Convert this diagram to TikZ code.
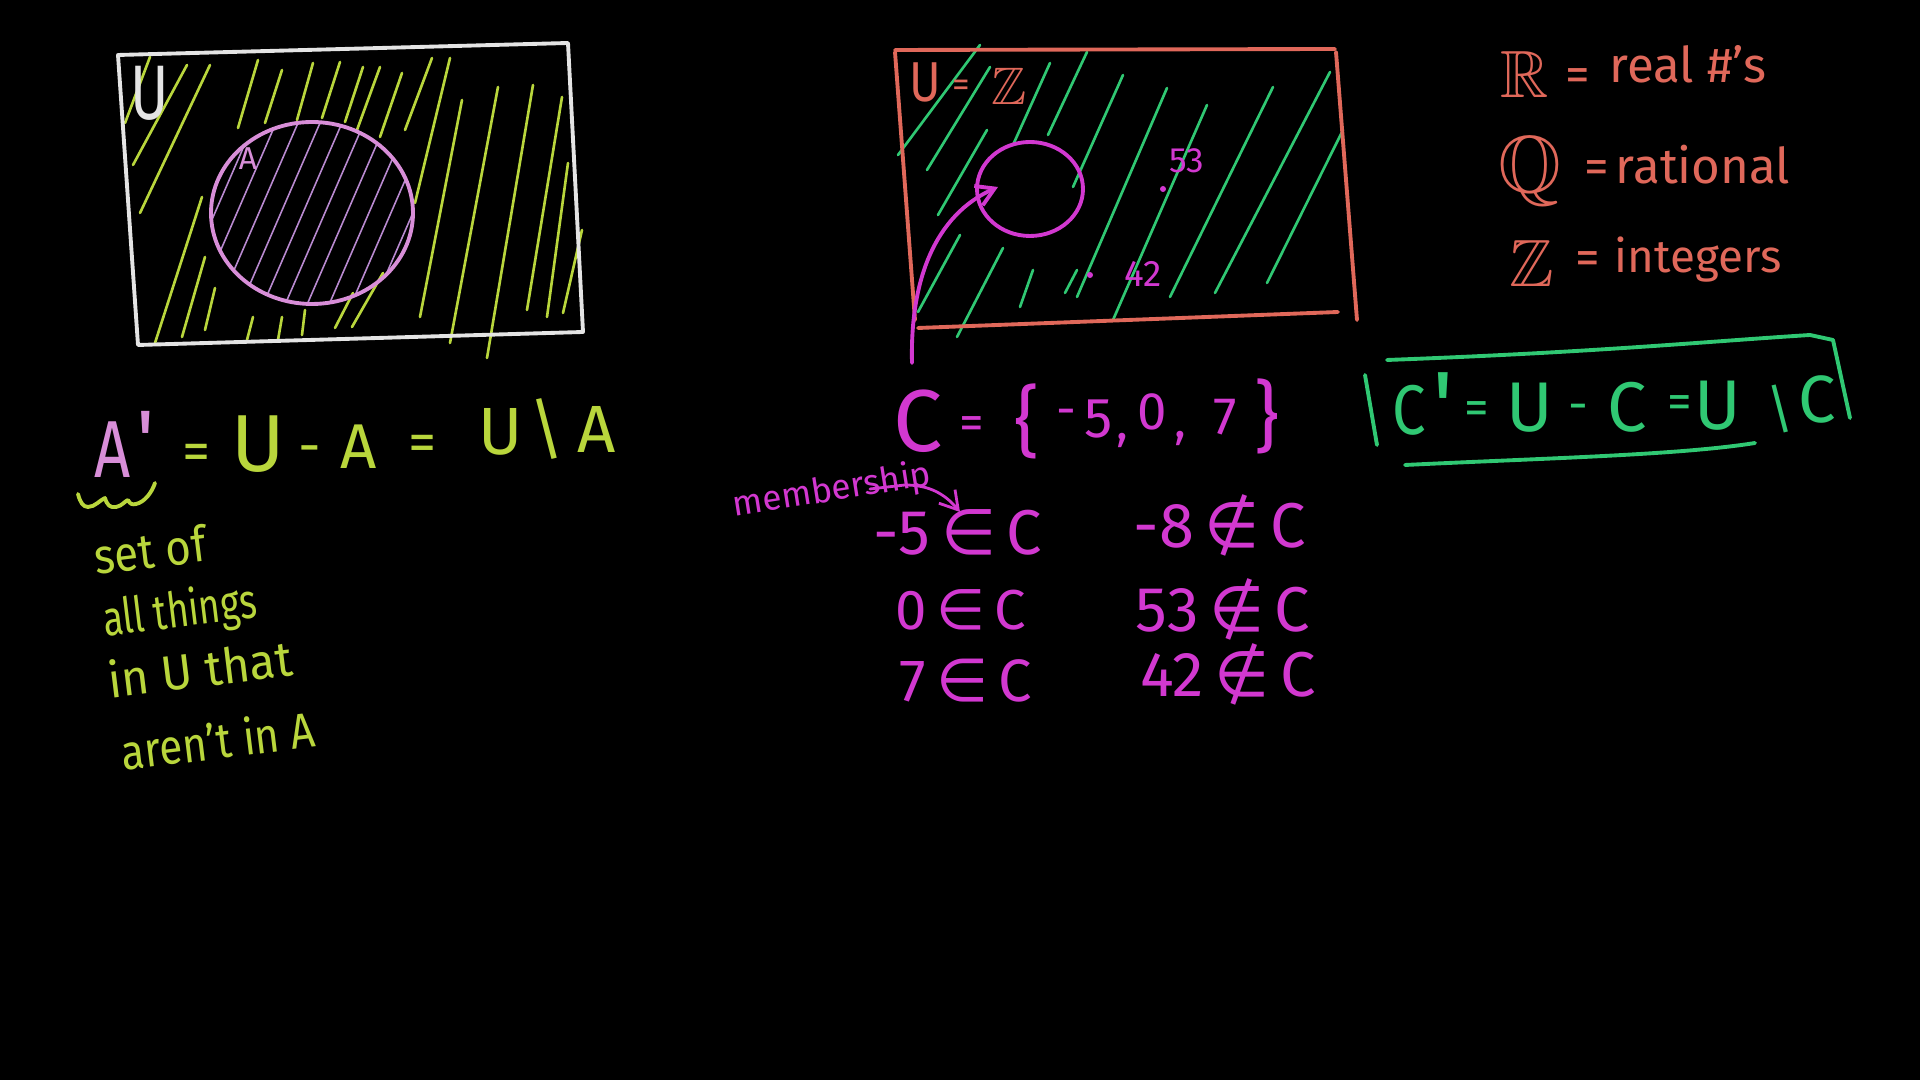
\documentclass[tikz,border=0pt]{standalone}
\usepackage{fontspec}
\setmainfont{Fira Sans}
\newfontfamily\symf{DejaVu Sans}
\usepackage{amssymb}
\usetikzlibrary{arrows.meta}
\definecolor{bw}{HTML}{E4E4E4}
\definecolor{yg}{HTML}{B9D63C}
\definecolor{pk}{HTML}{D88ED8}
\definecolor{lv}{HTML}{B98AD0}
\definecolor{sal}{HTML}{E0685A}
\definecolor{mag}{HTML}{D238D0}
\definecolor{grn}{HTML}{30C873}
\newcommand\fsz[1]{\fontsize{#1}{#1}\selectfont}
\begin{document}
\begin{tikzpicture}[x=0.01cm,y=-0.01cm,line cap=round,line join=round,
  lab/.style={inner sep=0pt,outer sep=0pt,anchor=center},
  labb/.style={inner sep=0pt,outer sep=0pt,anchor=base},
  hand/.style={line width=1.1pt},
  hatchline/.style={line width=0.75pt},
  thinhatch/.style={line width=0.45pt},
  barb/.style={-{Straight Barb[length=5pt,width=6pt]}}]
\fill[black] (0,0) rectangle (1920,1080);
\useasboundingbox (0,0) rectangle (1920,1080);

% ---------- left Venn diagram ----------
\foreach \a/\b/\c/\d in {125/123/150/57,133/165/187/65,140/213/210/65,238/128/258/60,
  265/123/282/70,297/120/313/63,322/118/340/62,345/122/363/67,357/130/380/67,
  380/137/402/73,405/130/432/58,415/203/450/58,420/317/462/100,450/343/498/87,
  487/358/533/85,527/310/562/97,547/317/568/163,563/313/582/230,155/343/202/197,
  182/337/205/257,205/330/215/288,247/340/253/317,278/340/282/317,302/335/305/310,
  335/328/353/293,352/327/383/273}
  \draw[yg,hatchline] (\a,\b) -- (\c,\d);
\begin{scope}
  \clip (312,213) ellipse [x radius=101, y radius=91];
  \foreach \x in {120,142,...,420}
    \draw[lv,thinhatch] (\x,330) -- (\x+100,100);
\end{scope}
\draw[pk,hand] (312,213) ellipse [x radius=101, y radius=91];
\draw[bw,hand] (118,55) -- (568,43) -- (583,332) -- (138,345) -- cycle;
\node[lab,text=bw,font=\fsz{22}] (uL) at (150,93) {\scalebox{0.75}[1]{U}};
\node[lab,text=pk,font=\fsz{9}] (aL) at (248,159) {A};

% ---------- A' = U - A = U\A ----------
\node[labb,text=pk,font=\fsz{23}] (eA) at (113,478) {\scalebox{0.78}[1]{A}};
\node[labb,text=pk,font=\fsz{24}] (ePr) at (146,470) {\textquotesingle};
\node[lab,text=yg,font=\fsz{16}] (eEq1) at (197,457) {=};
\node[labb,text=yg,font=\fsz{23}] (eU1) at (258,472) {U};
\node[lab,text=yg,font=\fsz{16}] (eMi) at (310,456) {-};
\node[labb,text=yg,font=\fsz{18}] (eA2) at (359,469) {A};
\node[lab,text=yg,font=\fsz{16}] (eEq2) at (423,448) {=};
\node[labb,text=yg,font=\fsz{19}] (eU2) at (501,455) {U};
\node[labb,text=yg,font=\fsz{19}] (eBs) at (547,453) {\textbackslash};
\node[labb,text=yg,font=\fsz{19}] (eA3) at (597,453) {A};
\draw[yg,hand] (78,494) .. controls (80,502) and (83,507) .. (88,507)
  .. controls (95,507) and (100,500) .. (105,498)
  .. controls (107,505) and (110,508) .. (116,507)
  .. controls (122,506) and (125,501) .. (128,500)
  .. controls (130,504) and (132,505) .. (136,504)
  .. controls (145,502) and (152,492) .. (155,483);

\node[lab,text=yg,font=\fsz{14},rotate=7] (n1) at (150,550) {\scalebox{0.89}[1]{set of}};
\node[lab,text=yg,font=\fsz{14},rotate=7] (n2) at (180,613) {\scalebox{0.75}[1]{all things}};
\node[lab,text=yg,font=\fsz{14},rotate=7] (n3) at (200,668) {\scalebox{0.96}[1]{in U that}};
\node[lab,text=yg,font=\fsz{14},rotate=7] (n4) at (218,740) {\scalebox{0.86}[1]{aren't in A}};

% ---------- right Venn diagram ----------
\foreach \a/\b/\c/\d in {898/155/980/45,927/170/990/67,938/215/987/130,1013/145/1050/63,
  1048/135/1087/52,1073/187/1123/75,1077/297/1167/88,1113/320/1207/105,
  1170/297/1273/87,1215/293/1330/72,1267/283/1343/130,918/312/960/235,
  957/337/1003/248,1020/307/1033/270,1065/293/1077/270}
  \draw[grn,hatchline] (\a,\b) -- (\c,\d);
\draw[sal,hand] (895,50) -- (1335,49);
\draw[sal,hand] (1336,52) -- (1357,320);
\draw[sal,hand] (918,328) -- (1338,312);
\draw[sal,hand] (895,52) -- (915,320);
\node[labb,text=sal,font=\fsz{16}] (uZ) at (925,102) {\scalebox{0.85}[1]{U}};
\node[lab,text=sal,font=\fsz{10}] (uZeq) at (961,88) {=};
\node[labb,text=sal,font=\fsz{15}] (uZz) at (1009,105) {$\mathbb{Z}$};
\draw[mag,hand] (1030,189) ellipse [x radius=53, y radius=47];
\coordinate (arS) at (912,363);
\coordinate (arE) at (998,187);
\draw[mag,hand,barb] (arS) .. controls (910,280) and (935,215) .. (arE);
\fill[mag] (1163,189) circle [radius=3];
\fill[mag] (1090,275) circle [radius=3];
\node[lab,text=mag,font=\fsz{10}] (p53) at (1187,161) {53};
\node[lab,text=mag,font=\fsz{10.5}] (p42) at (1143,274) {42};

% ---------- legend ----------
\node[labb,text=sal,font=\fsz{19}] (lR) at (1525,98) {$\mathbb{R}$};
\node[lab,text=sal,font=\fsz{14}] (lReq) at (1578,80) {=};
\node[labb,text=sal,font=\fsz{14}] (lRt) at (1688,83) {real \#'s};
\node[labb,text=sal,font=\fsz{23}] (lQ) at (1530,193) {$\mathbb{Q}$};
\node[lab,text=sal,font=\fsz{14}] (lQeq) at (1597,172) {=};
\node[labb,text=sal,font=\fsz{14}] (lQt) at (1703,184) {rational};
\node[labb,text=sal,font=\fsz{19}] (lZ) at (1532,287) {$\mathbb{Z}$};
\node[lab,text=sal,font=\fsz{14}] (lZeq) at (1588,263) {=};
\node[labb,text=sal,font=\fsz{13}] (lZt) at (1698,273) {integers};

% ---------- C = {-5, 0, 7} ----------
\node[labb,text=mag,font=\fsz{25}] (cC) at (918,452) {C};
\node[lab,text=mag,font=\fsz{14}] (cEq) at (972,428) {=};
\node[lab,text=mag,font=\fsz{22}] (cLb) at (1027,421) {\{};
\node[lab,text=mag,font=\fsz{14}] (cMi) at (1066,418) {-};
\node[labb,text=mag,font=\fsz{16}] (c5) at (1099,438) {5};
\node[lab,text=mag,font=\fsz{14}] (cCo1) at (1122,440) {,};
\node[labb,text=mag,font=\fsz{15}] (c0) at (1152,430) {0};
\node[lab,text=mag,font=\fsz{14}] (cCo2) at (1180,438) {,};
\node[labb,text=mag,font=\fsz{15}] (c7) at (1225,435) {7};
\node[lab,text=mag,font=\fsz{22}] (cRb) at (1267,416) {\}};

\node[lab,text=mag,font=\fsz{10},rotate=9] (mem) at (832,491) {membership};
\coordinate (ul1) at (870,489);
\coordinate (ul2) at (905,485);
\coordinate (ulE) at (960,512);
\draw[mag,line width=0.8pt,barb] (ul1) -- (ul2) to[out=0,in=130] (ulE);

\node[labb,text=mag,font=\fsz{18}] (r1) at (958,555) {-5\,{\symf ∈}\,C};
\node[labb,text=mag,font=\fsz{16}] (r2) at (961,630) {0\,{\symf ∈}\,C};
\node[labb,text=mag,font=\fsz{17}] (r3) at (966,702) {7\,{\symf ∈}\,C};
\node[labb,text=mag,font=\fsz{18}] (s1) at (1220,548) {-8\,{\symf ∉}\,C};
\node[labb,text=mag,font=\fsz{18}] (s2) at (1223,632) {53\,{\symf ∉}\,C};
\node[labb,text=mag,font=\fsz{18}] (s3) at (1228,697) {42\,{\symf ∉}\,C};

% ---------- C' = U - C = U\C ----------
\draw[grn,hand] (1365,375) -- (1377,445);
\draw[grn,hand] (1387,360) .. controls (1600,352) and (1700,342) .. (1810,335) -- (1833,340) -- (1850,418);
\draw[grn,hand] (1405,465) .. controls (1550,458) and (1680,455) .. (1755,443);
\node[labb,text=grn,font=\fsz{20}] (gC1) at (1409,435) {\scalebox{0.85}[1]{C}};
\node[labb,text=grn,font=\fsz{28}] (gPr) at (1443,441) {\textquotesingle};
\node[lab,text=grn,font=\fsz{14}] (gEq1) at (1477,413) {=};
\node[labb,text=grn,font=\fsz{20}] (gU1) at (1530,432) {U};
\node[lab,text=grn,font=\fsz{14}] (gMi) at (1578,413) {-};
\node[labb,text=grn,font=\fsz{20}] (gC2) at (1627,432) {C};
\node[lab,text=grn,font=\fsz{14}] (gEq2) at (1680,407) {=};
\node[labb,text=grn,font=\fsz{20}] (gU2) at (1718,430) {U};
\node[labb,text=grn,font=\fsz{15}] (gBs) at (1780,428) {\textbackslash};
\node[labb,text=grn,font=\fsz{19}] (gC3) at (1817,423) {C};
\end{tikzpicture}
\end{document}
